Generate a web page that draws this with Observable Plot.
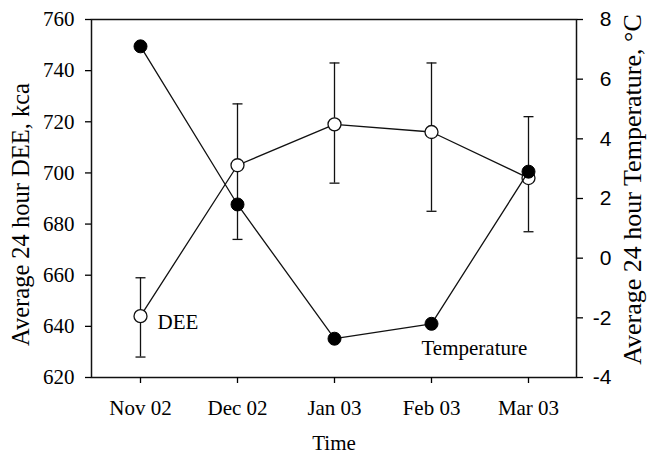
<!DOCTYPE html>
<html>
<head>
<meta charset="utf-8">
<script src="https://cdn.jsdelivr.net/npm/d3@7"></script>
<script src="https://cdn.jsdelivr.net/npm/@observablehq/plot@0.6"></script>
<style>
  html, body { margin: 0; padding: 0; background: #fff; }
  #chart { position: relative; width: 650px; height: 457px; }
  #chart svg { position: absolute; left: 0; top: 0; }
</style>
</head>
<body>
<div id="chart"></div>
<script>
// ---- data ----
const months   = ["Nov 02", "Dec 02", "Jan 03", "Feb 03", "Mar 03"];
const deeMean  = [644, 703, 719, 716, 698];
const deeLow   = [628, 674, 696, 685, 677];
const deeHigh  = [659, 727, 743, 743, 722];
const tempMean = [7.1, 1.8, -2.7, -2.2, 2.9];
const deeTicks  = [620, 640, 660, 680, 700, 720, 740, 760];
const tempTicks = [-4, -2, 0, 2, 4, 6, 8];
const leftTitle  = "Average 24 hour DEE, kca";
const rightTitle = "Average 24 hour Temperature, °C";
const xTitle     = "Time";
const deeLabel   = "DEE";
const tempLabel  = "Temperature";

const rows = months.map((m, i) => ({
  month: m, dee: deeMean[i], lo: deeLow[i], hi: deeHigh[i], temp: tempMean[i]
}));

const serif = "'Liberation Serif', 'Times New Roman', Times, serif";
const sans = "'Liberation Sans', Arial, Helvetica, sans-serif";

// horizontal cap for error bars
const capSymbol = {
  draw(context) {
    context.moveTo(-5, 0);
    context.lineTo(5, 0);
  }
};

const common = {
  width: 650, height: 457,
  marginLeft: 91, marginRight: 74, marginTop: 19, marginBottom: 80,
  style: {fontFamily: serif, fontSize: "21px", color: "#000", background: "transparent", overflow: "visible"}
};

const deePlot = Plot.plot({
  ...common,
  x: {type: "point", domain: months, padding: 0.5},
  y: {domain: [620, 760]},
  marks: [
    Plot.frame({stroke: "#111", strokeWidth: 1.5}),
    Plot.axisX({ticks: months, tickSize: 6, tickPadding: 17, label: null, strokeWidth: 1.3, fontSize: 21}),
    Plot.axisY({ticks: deeTicks, tickSize: 6, tickPadding: 11, label: null, strokeWidth: 1.3, fontSize: 21}),
    Plot.ruleX(rows, {x: "month", y1: "lo", y2: "hi", stroke: "#111", strokeWidth: 1.3}),
    Plot.dot(rows, {x: "month", y: "lo", symbol: capSymbol, fill: "none", stroke: "#111", strokeWidth: 1.3}),
    Plot.dot(rows, {x: "month", y: "hi", symbol: capSymbol, fill: "none", stroke: "#111", strokeWidth: 1.3}),
    Plot.line(rows, {x: "month", y: "dee", stroke: "#111", strokeWidth: 1.3}),
    Plot.dot(rows, {x: "month", y: "dee", r: 6.5, fill: "white", stroke: "#111", strokeWidth: 1.3}),
    Plot.text([rows[0]], {x: "month", y: "dee", text: () => deeLabel, textAnchor: "start", dx: 17, dy: 6, fontSize: 21, fill: "#000"}),
    Plot.text([xTitle], {frameAnchor: "bottom", textAnchor: "middle", dy: 72, fontSize: 21, fill: "#000"}),
    Plot.text([leftTitle], {frameAnchor: "left", textAnchor: "middle", rotate: -90, dx: -70, dy: 16, fontSize: 24.5, fill: "#000"})
  ]
});

const tempPlot = Plot.plot({
  ...common,
  x: {type: "point", domain: months, padding: 0.5, axis: null},
  y: {domain: [-4, 8]},
  marks: [
    Plot.axisY({anchor: "right", ticks: tempTicks, tickSize: 6, tickPadding: 29, textAnchor: "end",
      tickFormat: d => String(d), label: null, fontFamily: sans, fontSize: 21, strokeWidth: 1.3}),
    Plot.line(rows, {x: "month", y: "temp", stroke: "#111", strokeWidth: 1.3}),
    Plot.dot(rows, {x: "month", y: "temp", r: 6.5, fill: "#000", stroke: "#000", strokeWidth: 1}),
    Plot.text([rows[3]], {x: "month", y: "temp", text: () => tempLabel, textAnchor: "start", dx: -10, dy: 24, fontSize: 21, fill: "#000"}),
    Plot.text([rightTitle], {frameAnchor: "right", textAnchor: "middle", rotate: -90, dx: 56, dy: -9, fontSize: 26, fill: "#000"})
  ]
});

const chart = document.getElementById("chart");
chart.appendChild(deePlot);
chart.appendChild(tempPlot);
</script>
</body>
</html>
